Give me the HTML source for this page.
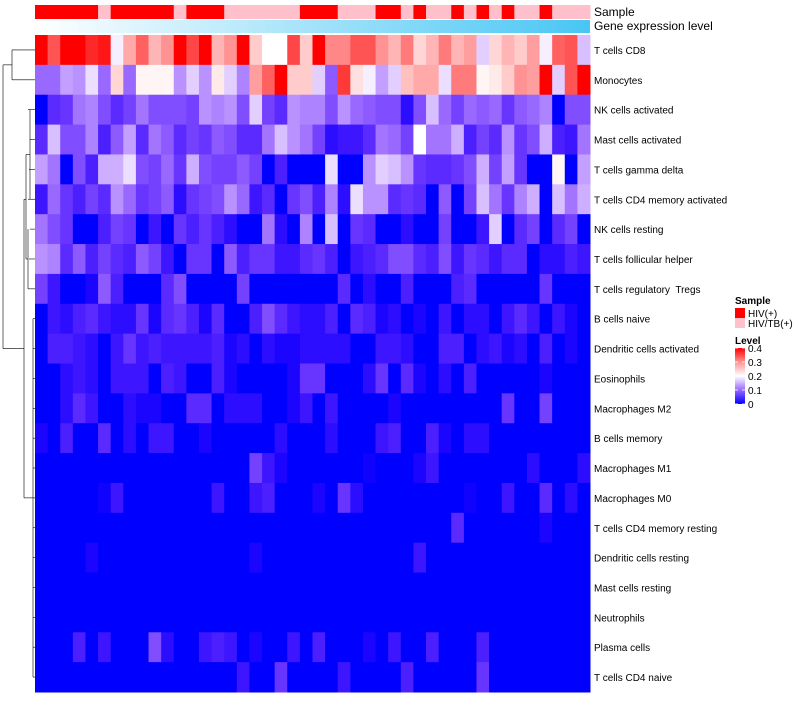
<!DOCTYPE html>
<html><head><meta charset="utf-8"><style>
body{margin:0;background:#fff;font-family:"Liberation Sans",sans-serif}
svg text{font-family:"Liberation Sans",sans-serif;white-space:pre}
</style></head><body>
<svg id="chart" width="800" height="700" viewBox="0 0 800 700"></svg>
<script>
const rowNames=["T cells CD8","Monocytes","NK cells activated","Mast cells activated","T cells gamma delta","T cells CD4 memory activated","NK cells resting","T cells follicular helper","T cells regulatory  Tregs","B cells naive","Dendritic cells activated","Eosinophils","Macrophages M2","B cells memory","Macrophages M1","Macrophages M0","T cells CD4 memory resting","Dendritic cells resting","Mast cells resting","Neutrophils","Plasma cells","T cells CD4 naive"];
const sampleGroup=[1,1,1,1,1,0,1,1,1,1,1,0,1,1,1,0,0,0,0,0,0,1,1,1,0,0,0,1,1,0,1,0,0,1,0,1,0,1,0,0,1,0,0,0];
const r1=[.4,.35,.4,.4,.38,.39,.19,.28,.34,.27,.3,.4,.36,.4,.27,.3,.4,.25,.2,.2,.36,.25,.4,.31,.31,.35,.35,.3,.27,.32,.24,.27,.32,.27,.29,.17,.24,.27,.25,.29,.19,.34,.35,.16];
const r2=[.1,.1,.14,.13,.18,.1,.24,.1,.21,.21,.21,.13,.17,.13,.22,.17,.12,.29,.34,.4,.25,.25,.17,.09,.37,.23,.19,.14,.17,.26,.28,.28,.18,.32,.32,.21,.22,.25,.3,.29,.4,.17,.35,.4];
const r3=[0,.05,.06,.11,.12,.08,.05,.07,.11,.08,.08,.08,.07,.13,.12,.13,.08,.17,.07,.05,.13,.12,.12,.08,.13,.1,.09,.08,.08,.02,.08,.16,.1,.07,.1,.09,.1,.06,.09,.1,.12,0,.08,.08];
const r4=[.05,.16,.08,.08,.12,.04,.09,.14,.05,.11,.09,.05,.07,.06,.09,.08,.05,.05,.11,.16,.13,.11,.07,.02,.03,.03,.05,.11,.1,.07,.2,.11,.11,.15,.04,.07,.05,.13,.06,.08,.15,.04,.03,.11];
const r5=[.14,.11,0,.08,.04,.15,.15,.18,.08,.07,.1,.06,.15,.08,.07,.07,.09,.07,0,.04,0,0,0,.18,0,0,.13,.17,.16,.13,.06,.05,.05,.06,.08,.15,.07,.14,.06,0,0,.21,0,.14];
const r6=[.03,.1,.06,.04,.07,.05,.13,.1,.06,.07,.09,.02,.06,.07,.08,.13,.1,.03,.05,0,.06,.08,.04,.12,.02,.18,.13,.13,.05,.06,.05,0,.09,0,.07,.16,.11,.06,.12,.15,0,.16,.11,.15];
const r7=[.11,.08,.06,0,0,.04,.07,.06,0,.03,0,.06,.04,.06,.04,.02,0,0,.11,.02,0,.12,0,.16,0,.06,.05,0,0,.02,0,0,.07,0,0,.03,.17,0,.05,.07,0,.05,.07,0];
const r8=[.13,.12,.05,.09,.04,.07,.05,.04,.09,.07,.03,0,.06,.06,0,.09,.04,.06,.06,.03,.03,.05,.06,.04,0,.03,.04,.05,.08,.08,.05,.04,.08,.03,.06,.05,.03,.05,.05,0,.02,.02,.04,.03];
const r9=[.07,.03,0,0,.01,.09,.04,0,0,0,.05,.08,0,0,0,0,.07,0,0,0,0,0,0,0,.05,0,.02,0,0,.04,0,0,0,.04,.05,0,0,0,0,0,.06,0,0,0];
const r10=[0,.03,.02,.04,.05,.03,.02,.02,.06,.01,.05,.06,.04,.01,.05,0,0,.04,.08,.05,.03,.02,.02,.04,0,.05,.04,.01,.02,0,.01,0,.03,0,.02,.02,0,.03,.05,.03,0,.03,.01,0];
const r11=[0,.04,.04,.03,.02,0,.03,.06,.03,.04,.03,.03,.03,.03,.04,.01,.02,0,.02,.01,.01,.02,.02,.02,.02,0,0,.03,.03,.02,0,0,.04,.04,0,.02,.03,.01,.02,0,.04,0,.01,0];
const r12=[0,0,.02,.03,.02,0,.03,.03,.03,0,.04,.03,0,0,.04,.01,0,0,0,0,.01,.06,.06,0,0,0,.02,.06,0,.05,.01,0,.02,0,.04,0,0,0,0,0,.01,0,0,0];
const r13=[0,0,.02,.05,.03,0,0,.02,.01,.01,0,0,.05,.05,0,.02,.02,.02,0,0,.01,.03,0,.03,0,0,0,0,.01,0,0,0,0,0,0,0,0,.06,0,0,.07,0,0,0];
const r14=[.01,0,.04,0,0,.05,0,.02,0,.03,.03,0,0,.01,0,0,0,0,0,.02,0,0,0,.02,0,0,0,.03,.04,0,0,.04,.01,0,.02,.02,0,0,0,0,0,0,0,0];
const r15=[0,0,0,0,0,0,0,0,0,0,0,0,0,0,0,0,0,.07,.03,.01,0,0,0,0,0,0,.005,0,0,0,.01,.03,0,0,0,0,0,0,0,.02,0,0,0,.02];
const r16=[0,0,0,0,0,.005,.03,0,0,0,0,0,0,0,.03,0,0,.03,.04,0,0,0,.01,0,.06,.02,0,0,0,0,0,0,0,0,.005,0,0,.03,0,0,.05,0,.02,0];
const r17=[0,0,0,0,0,0,0,0,0,0,0,0,0,0,0,0,0,0,0,0,0,0,0,0,0,0,0,0,0,0,0,0,0,.05,0,0,0,0,0,0,.01,0,0,0];
const r18=[0,0,0,0,.01,0,0,0,0,0,0,0,0,0,0,0,0,.01,0,0,0,0,0,0,0,0,0,0,0,0,.03,0,0,0,0,0,0,0,0,0,0,0,0,0];
const r19=[0,0,0,0,0,0,0,0,0,0,0,0,0,0,0,0,0,0,0,0,0,0,0,0,0,0,0,0,0,0,0,0,0,0,0,0,0,0,0,0,0,0,0,0];
const r20=[0,0,0,0,0,0,0,0,0,0,0,0,0,0,0,0,0,0,0,0,0,0,0,0,0,0,0,0,0,0,0,0,0,0,0,0,0,0,0,0,0,0,0,0];
const r21=[0,0,0,.04,0,.03,0,0,0,.08,.02,0,0,.03,.04,.03,0,.01,0,0,.03,0,.04,0,0,0,.01,0,.03,0,0,.04,0,0,0,.04,0,0,0,0,0,0,0,0];
const r22=[0,0,0,0,0,0,0,0,0,0,0,0,0,0,0,0,.03,0,0,.06,0,0,0,0,.03,0,0,0,0,.04,0,0,0,0,0,.06,0,0,0,0,0,0,0,0];
const values=[r1,r2,r3,r4,r5,r6,r7,r8,r9,r10,r11,r12,r13,r14,r15,r16,r17,r18,r19,r20,r21,r22];
const legendTicks=[0,0.1,0.2,0.3,0.4];

const NS="http://www.w3.org/2000/svg";
const svg=document.getElementById('chart');
function mk(t,a,p){const e=document.createElementNS(NS,t);for(const k in a)e.setAttribute(k,a[k]);(p||svg).appendChild(e);return e;}
const X0=35,X1=590,Y0=35,Y1=692;
const nC=r1.length,nR=values.length;
const cw=(X1-X0)/nC,rh=(Y1-Y0)/nR;
const xs=i=>X0+i*cw, ys=j=>Y0+j*rh;
function col(v){v=Math.max(0,Math.min(0.4,v));
 if(v<=0.2){const t=v/0.2;return `rgb(${Math.round(255*Math.pow(t,0.75))},${Math.round(255*Math.pow(t,1.3))},255)`;}
 const t=(v-0.2)/0.2;const g=Math.round(255*Math.pow(1-t,0.8));return `rgb(255,${g},${g})`;}

const ga=mk('g',{});


sampleGroup.forEach((s,i)=>{const r=mk('rect',{x:xs(i),y:5,width:cw+0.5,height:14,fill:s?'#ff0000':'#ffc0cb'},ga);
 
 });
const defs=mk('defs',{});
const lg=mk('linearGradient',{id:'ge',x1:0,x2:1,y1:0,y2:0},defs);
mk('stop',{offset:0,'stop-color':'#ffffff'},lg);mk('stop',{offset:1,'stop-color':'#48c6f4'},lg);
const gr=mk('rect',{x:X0,y:20,width:X1-X0,height:13,fill:'url(#ge)'});


const t1=mk('text',{x:594,y:16,'font-size':12,fill:'#000'});t1.textContent='Sample';


const t2=mk('text',{x:594,y:30,'font-size':12,fill:'#000'});t2.textContent='Gene expression level';



const gh=mk('g',{});


values.forEach((row,j)=>row.forEach((v,i)=>{
 const r=mk('rect',{x:xs(i),y:ys(j),width:cw+0.5,height:rh+0.5,fill:col(v)},gh);
 
 
}));
rowNames.forEach((n,j)=>{const t=mk('text',{x:594,y:ys(j)+rh/2+4,'font-size':10,fill:'#000'});t.textContent=n;
 
 });

const gd=mk('g',{stroke:'#000','stroke-width':0.6,fill:'none'});


const yc=j=>ys(j)+rh/2;
function seg(x1,y1,x2,y2){mk('line',{x1,y1,x2,y2},gd);}
seg(35,yc(0),12,yc(0));seg(35,yc(1),12,yc(1));seg(12,yc(0),12,yc(1));
const mA=(yc(0)+yc(1))/2;
for(let j=2;j<nR;j++){const x=j<9?30-(j%3):33; seg(35,yc(j),x,yc(j));}
seg(30,yc(2),30,yc(5));seg(28,yc(6),28,yc(8));seg(33,yc(9),33,yc(21));
seg(26,(yc(2)+yc(5))/2,26,(yc(6)+yc(8))/2);
seg(26,(yc(2)+yc(5))/2,30,(yc(2)+yc(5))/2);seg(26,(yc(6)+yc(8))/2,28,(yc(6)+yc(8))/2);
const mB1=(yc(3)+yc(7))/2,mB2=(yc(9)+yc(21))/2;
seg(24,mB1,26,mB1);seg(30,mB2,33,mB2);
seg(24,mB1,24,mB2);seg(24,mB2,30,mB2);
const mB=(mB1+mB2)/2;
seg(12,mA,3,mA);seg(24,mB,3,mB);seg(3,mA,3,mB);

const gl=mk('g',{});


const lt=mk('text',{x:735,y:304,'font-size':10,'font-weight':'bold'},gl);lt.textContent='Sample';
[['#ff0000','HIV(+)'],['#ffc0cb','HIV/TB(+)']].forEach((d,k)=>{
 const r=mk('rect',{x:735,y:308+k*10,width:10,height:10,fill:d[0]},gl);
 
 
 const t=mk('text',{x:748,y:317+k*10,'font-size':10},gl);t.textContent=d[1];
 
 });
const lt2=mk('text',{x:735,y:344,'font-size':10,'font-weight':'bold'},gl);lt2.textContent='Level';
const cg=mk('linearGradient',{id:'cg',x1:0,x2:0,y1:1,y2:0},defs);
[0,0.25,0.5,0.75,1].forEach(o=>mk('stop',{offset:o,'stop-color':col(o*0.4)},cg));
const LY0=404,LY1=348;
mk('rect',{x:735,y:LY1,width:10,height:LY0-LY1,fill:'url(#cg)'},gl);
legendTicks.forEach(v=>{const y=LY0-(v/0.4)*(LY0-LY1);
 mk('line',{x1:735,x2:738,y1:y,y2:y,stroke:'#fff','stroke-width':0.8},gl);
 mk('line',{x1:742,x2:745,y1:y,y2:y,stroke:'#fff','stroke-width':0.8},gl);
 const t=mk('text',{x:748,y:y+4,'font-size':10},gl);t.textContent=String(v);
 
 });
</script>
</body></html>
